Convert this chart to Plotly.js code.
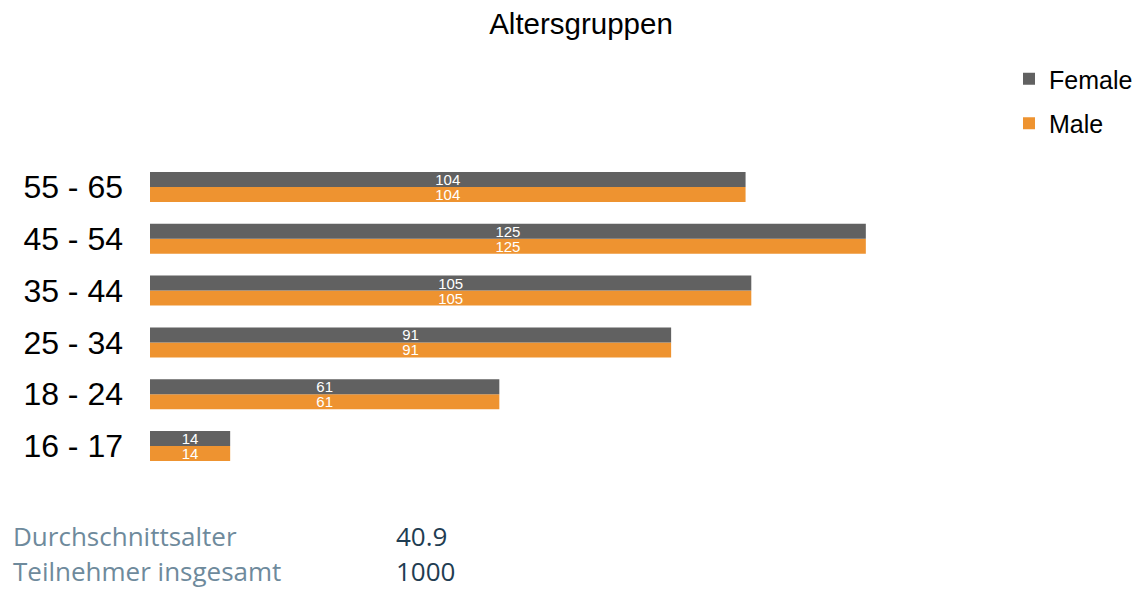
<!DOCTYPE html>
<html><head><meta charset="utf-8">
<script src="https://cdn.plot.ly/plotly-3.0.1.min.js"></script>
<style>html,body{margin:0;padding:0;background:#fff}#chart{width:1136px;height:589px}</style>
</head><body><div id="chart"></div>
<script>
const categories = ["16 - 17","18 - 24","25 - 34","35 - 44","45 - 54","55 - 65"];
const female = [14,61,91,105,125,104];
const male = [14,61,91,105,125,104];
const statLabels = ["Durchschnittsalter","Teilnehmer insgesamt"];
const statValues = ["40.9","1000"];

const W = 1136, H = 589;
const barText = {color:'#ffffff', size:15, family:'Liberation Sans, Arial, sans-serif'};
const traces = [
  {type:'bar', orientation:'h', name:'Male', y:categories, x:male, text:male.map(String),
   marker:{color:'#ee9330'}, textposition:'inside', insidetextanchor:'middle', constraintext:'none', textangle:0,
   textfont:barText, legendgroup:'m', legendrank:2, hoverinfo:'x+name'},
  {type:'bar', orientation:'h', name:'Female', y:categories, x:female, text:female.map(String),
   marker:{color:'#616161'}, textposition:'inside', insidetextanchor:'middle', constraintext:'none', textangle:0,
   textfont:barText, legendgroup:'f', legendrank:1, hoverinfo:'x+name'}
];
const annotations = [];
statLabels.forEach((t,i)=>{
  const yy = -(536 + i*35 - 472)/311;
  annotations.push({xref:'paper', yref:'paper', x:(11-150)/860, y:yy, xanchor:'left', yanchor:'middle',
    text:t, showarrow:false, font:{family:'Open Sans, sans-serif', size:26, color:'#6e8a9c'}});
  annotations.push({xref:'paper', yref:'paper', x:(394-150)/860, y:yy, xanchor:'left', yanchor:'middle',
    text:statValues[i], showarrow:false, font:{family:'Open Sans, sans-serif', size:26, color:'#1f3d52'}});
});
const layout = {
  width:W, height:H,
  margin:{l:150, r:126, t:161, b:117},
  paper_bgcolor:'#ffffff', plot_bgcolor:'#ffffff',
  font:{family:'Liberation Sans, Arial, sans-serif', color:'#000'},
  title:{text:'Altersgruppen', x:581/W, xanchor:'center', y:1-24/H, yanchor:'middle', yref:'container', xref:'container',
    font:{size:29.5, color:'#000', family:'Liberation Sans, Arial, sans-serif'}},
  barmode:'group', bargap:0.42, bargroupgap:0,
  xaxis:{range:[0,150], visible:false, showgrid:false, zeroline:false, fixedrange:true},
  yaxis:{type:'category', categoryorder:'array', categoryarray:categories, showgrid:false, zeroline:false, showline:false,
    ticks:'', ticklabelstandoff:26, tickfont:{size:32, color:'#000', family:'Liberation Sans, Arial, sans-serif'}},
  showlegend:true,
  legend:{xref:'container', yref:'container', x:1009/W, y:1-56/H, xanchor:'left', yanchor:'top',
    traceorder:'grouped', tracegroupgap:9, itemwidth:30,
    font:{size:25, color:'#000', family:'Liberation Sans, Arial, sans-serif'}, bgcolor:'rgba(0,0,0,0)'},
  annotations:annotations
};
Plotly.newPlot('chart', traces, layout, {displayModeBar:false, staticPlot:true});
</script></body></html>
